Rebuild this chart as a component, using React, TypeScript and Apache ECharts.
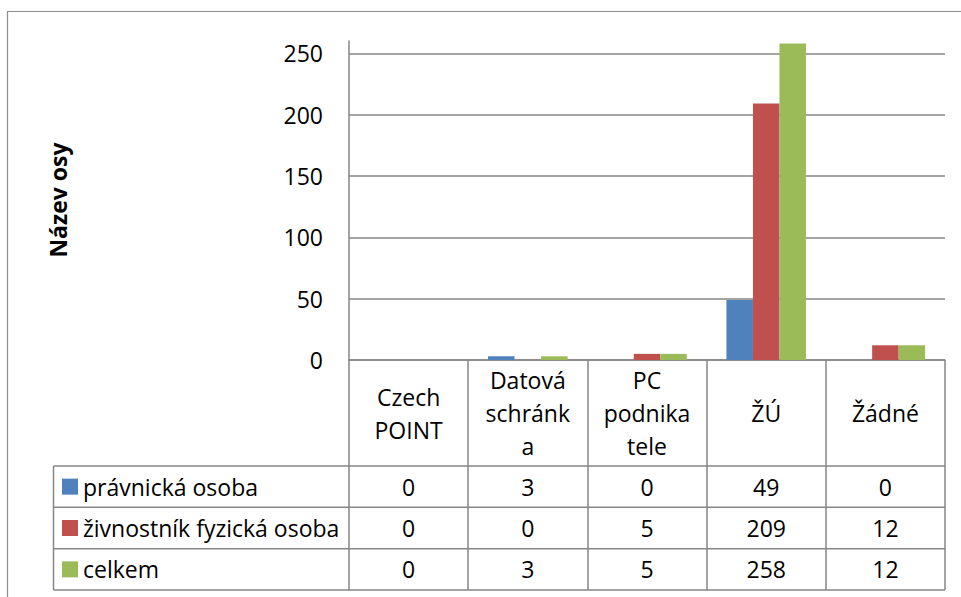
import React, { useEffect, useRef } from "react";
import * as echarts from "echarts";

// ---- data ----
const categoryLabels = ["Czech\nPOINT", "Datová\nschránk\na", "PC\npodnika\ntele", "ŽÚ", "Žádné"];
const seriesNames = ["právnická osoba", "živnostník fyzická osoba", "celkem"];
const pravnickaOsoba = [0, 3, 0, 49, 0];
const zivnostnikFyzickaOsoba = [0, 0, 5, 209, 12];
const celkem = [0, 3, 5, 258, 12];
const seriesColors = ["#4F81BD", "#C0504D", "#9BBB59"];
const yAxisTitle = "Název osy";
const yMax = 260;
const yInterval = 50;

// ---- layout ----
const W = 961;
const H = 597;
const FONT = "'Open Sans', 'Noto Sans', sans-serif";
const FS = 23;
const LINE = "#868686";
const GRID_LEFT = 349;
const GRID_TOP = 41;
const GRID_BOTTOM_Y = 360;
const GRID_RIGHT_X = 945;
const TABLE_LEFT = 53.5;
const ROW_LINES = [466, 507.3, 548.7, 590];

export default function App() {
  const ref = useRef<HTMLDivElement>(null);

  useEffect(() => {
    if (!ref.current) return;
    const chart = echarts.init(ref.current, undefined, { renderer: "svg" });
    const seriesData = [pravnickaOsoba, zivnostnikFyzickaOsoba, celkem];

    chart.setOption({
      animation: false,
      backgroundColor: "#ffffff",
      grid: {
        left: GRID_LEFT,
        top: GRID_TOP,
        width: GRID_RIGHT_X - GRID_LEFT,
        height: GRID_BOTTOM_Y - GRID_TOP,
        containLabel: false,
      },
      xAxis: {
        type: "category",
        data: categoryLabels,
        boundaryGap: true,
        axisLine: { show: true, lineStyle: { color: LINE, width: 1.5 } },
        axisTick: {
          show: true,
          interval: 0,
          length: ROW_LINES[ROW_LINES.length - 1] - GRID_BOTTOM_Y,
          lineStyle: { color: LINE, width: 1.5 },
        },
        axisLabel: {
          interval: 0,
          margin: (ROW_LINES[0] - GRID_BOTTOM_Y) / 2,
          verticalAlign: "middle",
          align: "center",
          lineHeight: 33,
          fontSize: FS,
          fontFamily: FONT,
          color: "#000",
        },
        splitLine: { show: false },
      },
      yAxis: {
        type: "value",
        min: 0,
        max: yMax,
        interval: yInterval,
        axisLine: { show: true, lineStyle: { color: LINE, width: 1.5 } },
        axisTick: { show: false },
        axisLabel: {
          margin: 26,
          fontSize: FS,
          fontFamily: FONT,
          color: "#000",
          showMaxLabel: false,
          formatter: (v: number) => (v % yInterval === 0 ? String(v) : ""),
        },
        splitLine: {
          show: true,
          showMaxLine: false,
          lineStyle: { color: LINE, width: 1.5 },
        },
      },
      series: seriesNames.map((name, i) => ({
        name,
        type: "bar",
        data: seriesData[i],
        barGap: "0%",
        barCategoryGap: "33.3%",
        itemStyle: { color: seriesColors[i] },
      })),
    });

    const colX = categoryLabels.map((_, i) =>
      chart.convertToPixel({ xAxisIndex: 0 }, i) as number
    );
    const rowCenters = seriesNames.map((_, r) => (ROW_LINES[r] + ROW_LINES[r + 1]) / 2);

    const graphics: any[] = [];
    // outer frame
    graphics.push({
      type: "polyline",
      shape: { points: [[7.5, H], [7.5, 11.5], [W, 11.5]] },
      style: { stroke: "#8c8c8c", lineWidth: 1.2, fill: "none" },
      silent: true,
    });
    // y-axis title
    graphics.push({
      type: "text",
      x: 58,
      y: 200,
      rotation: Math.PI / 2,
      style: {
        text: yAxisTitle,
        font: `bold ${FS}px ${FONT}`,
        fill: "#000",
        align: "center",
        verticalAlign: "middle",
      },
      silent: true,
    });
    // table horizontal lines
    ROW_LINES.forEach((y) => {
      graphics.push({
        type: "line",
        shape: { x1: TABLE_LEFT, y1: y, x2: GRID_RIGHT_X, y2: y },
        style: { stroke: LINE, lineWidth: 1.5 },
        silent: true,
      });
    });
    // table left vertical line
    graphics.push({
      type: "line",
      shape: { x1: TABLE_LEFT, y1: ROW_LINES[0], x2: TABLE_LEFT, y2: ROW_LINES[ROW_LINES.length - 1] },
      style: { stroke: LINE, lineWidth: 1.5 },
      silent: true,
    });
    // rows
    seriesNames.forEach((name, r) => {
      const cy = rowCenters[r];
      graphics.push({
        type: "rect",
        shape: { x: 62, y: cy - 8, width: 16, height: 16 },
        style: { fill: seriesColors[r] },
        silent: true,
      });
      graphics.push({
        type: "text",
        x: 83,
        y: cy,
        style: {
          text: name,
          font: `${FS}px ${FONT}`,
          fill: "#000",
          align: "left",
          verticalAlign: "middle",
        },
        silent: true,
      });
      seriesData[r].forEach((v, c) => {
        graphics.push({
          type: "text",
          x: colX[c],
          y: cy,
          style: {
            text: String(v),
            font: `${FS}px ${FONT}`,
            fill: "#000",
            align: "center",
            verticalAlign: "middle",
          },
          silent: true,
        });
      });
    });

    chart.setOption({ graphic: graphics });

    return () => chart.dispose();
  }, []);

  return (
    <div
      ref={ref}
      style={{ position: "absolute", left: 0, top: 0, width: W, height: H, background: "#fff" }}
    />
  );
}
